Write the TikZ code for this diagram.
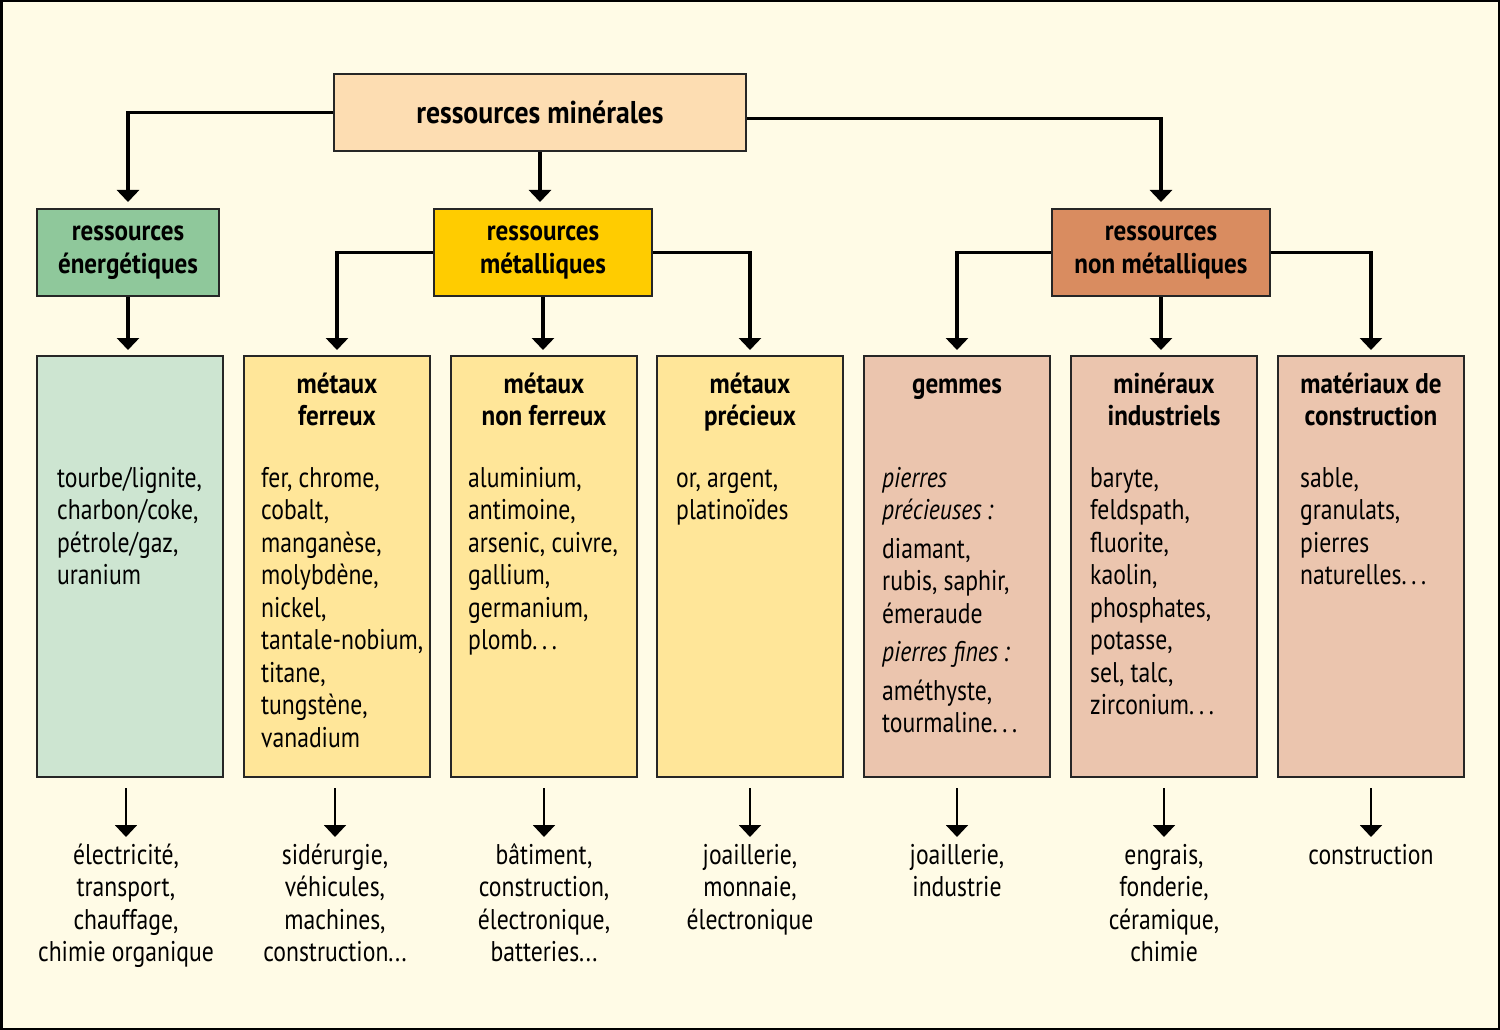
\documentclass[tikz,border=0pt]{standalone}
\usepackage{fontspec}
\setmainfont{PT Sans}[FakeStretch=0.83]
\newfontfamily\grasfam{PT Sans}[FakeStretch=0.88]
\usetikzlibrary{arrows.meta,positioning}

\definecolor{cFond}{HTML}{FFFBE6}
\definecolor{cMin}{HTML}{FDDDB2}
\definecolor{cEnerg}{HTML}{8FC89B}
\definecolor{cMetal}{HTML}{FFCC00}
\definecolor{cNonMet}{HTML}{D98C60}
\definecolor{cEnergC}{HTML}{CDE5D1}
\definecolor{cMetalC}{HTML}{FFE699}
\definecolor{cNonMetC}{HTML}{EBC5AE}

\newcommand{\grand}{\grasfam\fontsize{31.5}{34}\selectfont\bfseries}
\newcommand{\titre}{\grasfam\fontsize{28.5}{32.5}\selectfont\bfseries}
\newcommand{\corps}{\fontsize{28.5}{32.5}\selectfont}
\newcommand{\haut}{\rule{0pt}{22pt}}	%fixed first line height
\newcommand{\pts}{.\,.\,.}

\tikzset{
	cadre/.style={draw=black!85, line width=2pt, inner sep=0pt, anchor=north west},
	colonne/.style={cadre, minimum width=186pt, minimum height=421pt},
	titrecol/.style={anchor=north, align=center, inner sep=0pt, font=\titre},
	corpscol/.style={anchor=north west, align=left, inner sep=0pt, font=\corps},
	usage/.style={anchor=north, align=center, inner sep=0pt, font=\corps},
	lien/.style={line width=3.5pt, -{Triangle[width=22pt,length=12pt]}},
	fleche/.style={line width=2pt, -{Triangle[width=22pt,length=12pt]}}
}

\begin{document}
\begin{tikzpicture}[x=1pt,y=-1pt]
	\pgfmathsetmacro{\haute}{16}		%box top to first title line
	\pgfmathsetmacro{\texte}{110}		%box top to first body line
	\pgfmathsetmacro{\bas}{64}			%box bottom to usage text

	%background and frame
	\useasboundingbox (0,0) rectangle (1500,1030);
	\fill[cFond] (0,0) rectangle (1500,1030);
	\draw[line width=2.5pt] (1.25,1.25) rectangle (1498.75,1028.75);

	%top
	\node[cadre, fill=cMin, minimum width=412pt, minimum height=77pt, font=\grand] (mineral) at (333,73) {ressources minérales};

	%second level
	\node[cadre, fill=cEnerg, minimum width=182pt, minimum height=87pt, align=center, font=\titre] (energ) at (36,208) {ressources\\énergétiques};
	\node[cadre, fill=cMetal, minimum width=218pt, minimum height=87pt, align=center, font=\titre] (metal) at (433,208) {ressources\\métalliques};
	\node[cadre, fill=cNonMet, minimum width=218pt, minimum height=87pt, align=center, font=\titre] (nonmet) at (1051,208) {ressources\\non métalliques};

	%columns
	\node[colonne, fill=cEnergC] (c1) at (36,355) {};
	\node[colonne, fill=cMetalC] (c2) at (243,355) {};
	\node[colonne, fill=cMetalC] (c3) at (450,355) {};
	\node[colonne, fill=cMetalC] (c4) at (656,355) {};
	\node[colonne, fill=cNonMetC] (c5) at (863,355) {};
	\node[colonne, fill=cNonMetC] (c6) at (1070,355) {};
	\node[colonne, fill=cNonMetC] (c7) at (1277,355) {};

	%column titles
	\node[titrecol] (t2) at ([yshift=-\haute pt]c2.north) {\haut métaux\\ferreux};
	\node[titrecol] (t3) at ([yshift=-\haute pt]c3.north) {\haut métaux\\non ferreux};
	\node[titrecol] (t4) at ([yshift=-\haute pt]c4.north) {\haut métaux\\précieux};
	\node[titrecol] (t5) at ([yshift=-\haute pt]c5.north) {\haut gemmes};
	\node[titrecol] (t6) at ([yshift=-\haute pt]c6.north) {\haut minéraux\\industriels};
	\node[titrecol] (t7) at ([yshift=-\haute pt]c7.north) {\haut matériaux de\\construction};

	%column texts
	\node[corpscol] (b1) at ([shift={(21pt,-\texte pt)}]c1.north west) {\haut tourbe/lignite,\\charbon/coke,\\pétrole/gaz,\\uranium};
	\node[corpscol] (b2) at ([shift={(18pt,-\texte pt)}]c2.north west) {\haut fer, chrome,\\cobalt,\\manganèse,\\molybdène,\\nickel,\\tantale-nobium,\\titane,\\tungstène,\\vanadium};
	\node[corpscol] (b3) at ([shift={(18pt,-\texte pt)}]c3.north west) {\haut aluminium,\\antimoine,\\arsenic, cuivre,\\gallium,\\germanium,\\plomb\pts};
	\node[corpscol] (b4) at ([shift={(20pt,-\texte pt)}]c4.north west) {\haut or, argent,\\platinoïdes};
	\node[corpscol] (b5) at ([shift={(19pt,-\texte pt)}]c5.north west) {\haut\textit{pierres}\\\textit{précieuses\,:}\\[6pt]diamant,\\rubis, saphir,\\émeraude\\[6pt]\textit{pierres fines\,:}\\[6pt]améthyste,\\tourmaline\pts};
	\node[corpscol] (b6) at ([shift={(20pt,-\texte pt)}]c6.north west) {\haut baryte,\\feldspath,\\fluorite,\\kaolin,\\phosphates,\\potasse,\\sel, talc,\\zirconium\pts};
	\node[corpscol] (b7) at ([shift={(23pt,-\texte pt)}]c7.north west) {\haut sable,\\granulats,\\pierres\\naturelles\pts};

	%uses
	\node[usage] (u1) at ([xshift=-4pt,yshift=-\bas pt]c1.south) {\haut électricité,\\transport,\\chauffage,\\chimie organique};
	\node[usage] (u2) at ([xshift=-2pt,yshift=-\bas pt]c2.south) {\haut sidérurgie,\\véhicules,\\machines,\\construction...};
	\node[usage] (u3) at ([yshift=-\bas pt]c3.south) {\haut bâtiment,\\construction,\\électronique,\\batteries...};
	\node[usage] (u4) at ([yshift=-\bas pt]c4.south) {\haut joaillerie,\\monnaie,\\électronique};
	\node[usage] (u5) at ([yshift=-\bas pt]c5.south) {\haut joaillerie,\\industrie};
	\node[usage] (u6) at ([yshift=-\bas pt]c6.south) {\haut engrais,\\fonderie,\\céramique,\\chimie};
	\node[usage] (u7) at ([yshift=-\bas pt]c7.south) {\haut construction};

	%connectors
	\draw[lien] (mineral.west) -| ([yshift=6pt]energ.north);
	\draw[lien] (mineral.south) -- ([yshift=6pt]mineral.south |- metal.north);
	\draw[lien] ([yshift=-6pt]mineral.east) -| ([yshift=6pt]nonmet.north);

	\draw[lien] (energ.south) -- ([yshift=5pt]energ.south |- c1.north);
	\draw[lien] (metal.west) -| ([yshift=5pt]c2.north);
	\draw[lien] (metal.south) -- ([yshift=5pt]metal.south |- c3.north);
	\draw[lien] (metal.east) -| ([yshift=5pt]c4.north);
	\draw[lien] (nonmet.west) -| ([yshift=5pt]c5.north);
	\draw[lien] (nonmet.south) -- ([yshift=5pt]nonmet.south |- c6.north);
	\draw[lien] (nonmet.east) -| ([yshift=5pt]c7.north);

	\foreach \i in {1,...,7}
		\draw[fleche] ([yshift=-10pt]u\i.north |- c\i.south) -- ([yshift=5pt]u\i.north);

\end{tikzpicture}
\end{document}
